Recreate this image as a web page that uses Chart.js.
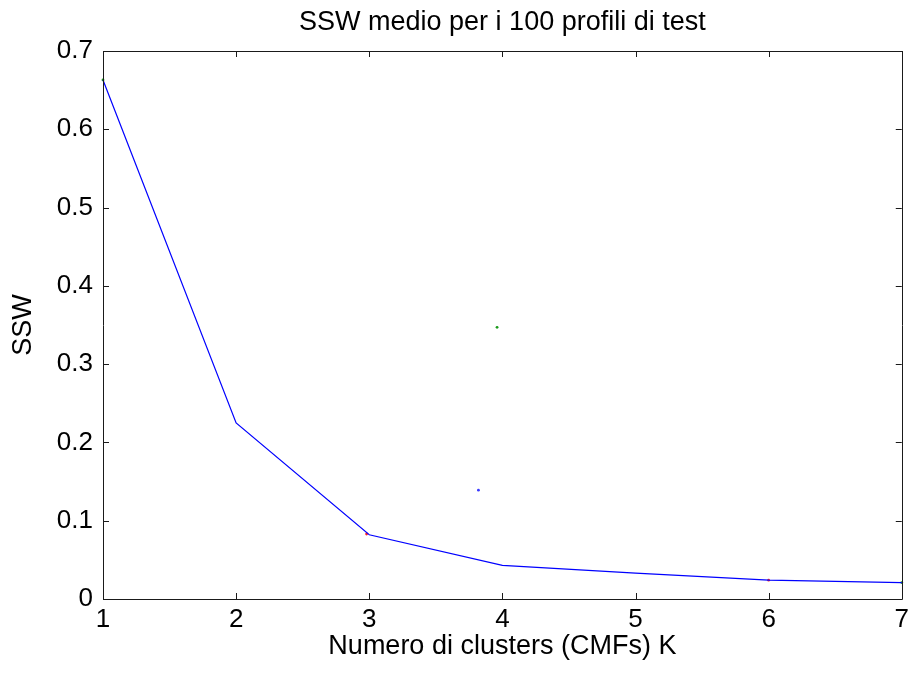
<!DOCTYPE html>
<html>
<head>
<meta charset="utf-8">
<title>SSW medio</title>
<script src="https://cdn.jsdelivr.net/npm/chart.js@4"></script>
<style>
  html, body { margin: 0; padding: 0; background: #fff; }
  #wrap { width: 914px; height: 673px; }
</style>
</head>
<body>
<div id="wrap"><canvas id="sswChart"></canvas></div>
<script>
// number of clusters K and mean SSW over the 100 test profiles
const kValues = [1, 2, 3, 4, 5, 6, 7];
const sswValues = [0.663, 0.225, 0.082, 0.043, 0.033, 0.024, 0.021];

// small single markers left in the axes
const greenK = [1, 3.96, 7];
const greenSSW = [0.663, 0.347, 0.021];
const blueK = [3.82];
const blueSSW = [0.139];
const redK = [2.98, 6];
const redSSW = [0.083, 0.024];

const xTicks = [1, 2, 3, 4, 5, 6, 7];
const yTicks = [0, 0.1, 0.2, 0.3, 0.4, 0.5, 0.6, 0.7];

const toPoints = (xs, ys) => xs.map((x, i) => ({ x: x, y: ys[i] }));

const FONT = 'Liberation Sans, Arial, Helvetica, sans-serif';

// MATLAB style box: full frame with ticks pointing inwards on every side
const boxAxes = {
    id: 'boxAxes',
    afterDatasetsDraw(chart) {
        const ctx = chart.ctx;
        const a = chart.chartArea;
        const xs = chart.scales.x;
        const ys = chart.scales.y;
        const len = 6;
        ctx.save();
        ctx.strokeStyle = '#1a1a1a';
        ctx.lineWidth = 1;
        ctx.beginPath();
        ctx.rect(Math.round(a.left) + 0.5, Math.round(a.top) + 0.5,
            Math.round(a.right - a.left), Math.round(a.bottom - a.top));
        for (const t of xTicks) {
            const px = Math.round(xs.getPixelForValue(t)) + 0.5;
            ctx.moveTo(px, a.bottom); ctx.lineTo(px, a.bottom - len);
            ctx.moveTo(px, a.top); ctx.lineTo(px, a.top + len);
        }
        for (const t of yTicks) {
            const py = Math.round(ys.getPixelForValue(t)) + 0.5;
            ctx.moveTo(a.left, py); ctx.lineTo(a.left + len, py);
            ctx.moveTo(a.right, py); ctx.lineTo(a.right - len, py);
        }
        ctx.stroke();
        ctx.restore();
    }
};

const ctx = document.getElementById('sswChart').getContext('2d');
new Chart(ctx, {
    type: 'scatter',
    data: {
        datasets: [
            {
                data: toPoints(kValues, sswValues),
                showLine: true,
                borderColor: '#0000ff',
                borderWidth: 1.2,
                pointRadius: 0,
                clip: false
            },
            {
                data: toPoints(greenK, greenSSW),
                backgroundColor: '#1a9a1a',
                borderWidth: 0,
                pointRadius: 1.4,
                clip: false
            },
            {
                data: toPoints(blueK, blueSSW),
                backgroundColor: '#3a3aff',
                borderWidth: 0,
                pointRadius: 1.4,
                clip: false
            },
            {
                data: toPoints(redK, redSSW),
                backgroundColor: '#ff2020',
                borderWidth: 0,
                pointRadius: 1.4,
                clip: false
            }
        ]
    },
    options: {
        responsive: true,
        maintainAspectRatio: false,
        animation: false,
        layout: { padding: { left: 0, right: 10, top: 0, bottom: 0 } },
        plugins: {
            legend: { display: false },
            tooltip: { enabled: false },
            title: {
                display: true,
                fullSize: false,
                text: 'SSW medio per i 100 profili di test',
                color: '#000',
                font: { family: FONT, size: 27, weight: 'normal' },
                padding: { top: 6, bottom: 12.6 }
            }
        },
        scales: {
            x: {
                type: 'linear',
                min: 1,
                max: 7,
                afterBuildTicks: (scale) => { scale.ticks = xTicks.map(v => ({ value: v })); },
                afterFit: (scale) => { scale.height = 74; },
                grid: { display: false, drawTicks: false },
                border: { display: false },
                ticks: {
                    color: '#000',
                    padding: 5,
                    maxRotation: 0,
                    font: { family: FONT, size: 26 },
                    callback: (v) => String(v)
                },
                title: {
                    display: true,
                    text: 'Numero di clusters (CMFs) K',
                    color: '#000',
                    font: { family: FONT, size: 27 },
                    padding: { top: 0, bottom: 10 }
                }
            },
            y: {
                type: 'linear',
                min: 0,
                max: 0.7,
                afterBuildTicks: (scale) => { scale.ticks = yTicks.map(v => ({ value: v })); },
                afterFit: (scale) => { scale.width = 103; },
                grid: { display: false, drawTicks: false },
                border: { display: false },
                ticks: {
                    color: '#000',
                    padding: 10,
                    font: { family: FONT, size: 26 },
                    callback: (v) => String(Math.round(v * 10) / 10)
                },
                title: {
                    display: true,
                    text: 'SSW',
                    color: '#000',
                    font: { family: FONT, size: 27 },
                    padding: { top: 7, bottom: 0 }
                }
            }
        }
    },
    plugins: [boxAxes]
});
</script>
</body>
</html>
